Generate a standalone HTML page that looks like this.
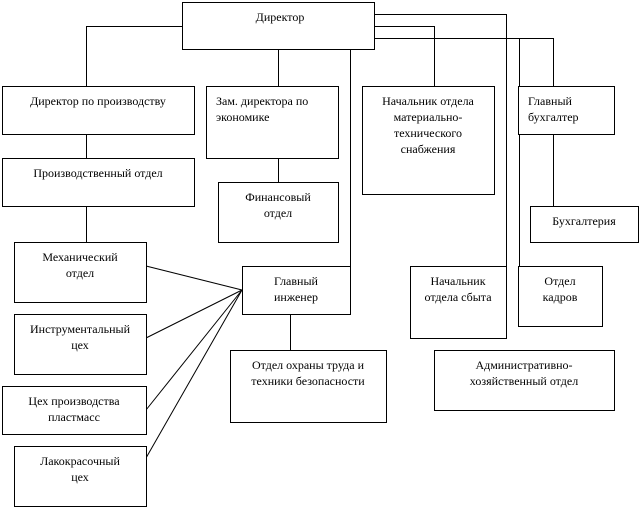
<!DOCTYPE html>
<html><head><meta charset="utf-8"><style>
html,body{margin:0;padding:0;background:#fff;}
svg{display:block;}
text{font-family:"Liberation Serif",serif;font-size:12px;fill:#000;}
</style></head><body>
<svg width="642" height="510" viewBox="0 0 642 510" xmlns="http://www.w3.org/2000/svg">
<g fill="none" stroke="#000" stroke-width="1">
<polyline points="182.5,26.5 86.5,26.5 86.5,86"/>
<line x1="278.5" y1="50" x2="278.5" y2="86"/>
<line x1="350.5" y1="50" x2="350.5" y2="266"/>
<polyline points="374,14.5 506.5,14.5 506.5,266"/>
<polyline points="374,26.5 434.5,26.5 434.5,86"/>
<polyline points="374,38.5 553.5,38.5 553.5,86"/>
<line x1="519.5" y1="38.5" x2="519.5" y2="266"/>
<line x1="553.5" y1="134" x2="553.5" y2="206"/>
<line x1="86.5" y1="134" x2="86.5" y2="158"/>
<line x1="86.5" y1="206" x2="86.5" y2="242"/>
<line x1="278.5" y1="158" x2="278.5" y2="182"/>
<line x1="290.5" y1="314" x2="290.5" y2="350"/>
<line x1="146" y1="266" x2="242" y2="290"/>
<line x1="146" y1="338" x2="242" y2="290"/>
<line x1="146" y1="410" x2="242" y2="290"/>
<line x1="146" y1="458" x2="242" y2="290"/>
<rect x="182.5" y="2.5" width="192" height="47" fill="#fff"/>
<rect x="2.5" y="86.5" width="192" height="48" fill="#fff"/>
<rect x="206.5" y="86.5" width="132" height="72" fill="#fff"/>
<rect x="362.5" y="86.5" width="132" height="108" fill="#fff"/>
<rect x="518.5" y="86.5" width="96" height="48" fill="#fff"/>
<rect x="2.5" y="158.5" width="192" height="48" fill="#fff"/>
<rect x="218.5" y="182.5" width="120" height="60" fill="#fff"/>
<rect x="530.5" y="206.5" width="108" height="36" fill="#fff"/>
<rect x="14.5" y="242.5" width="132" height="60" fill="#fff"/>
<rect x="242.5" y="266.5" width="108" height="48" fill="#fff"/>
<rect x="410.5" y="266.5" width="96" height="72" fill="#fff"/>
<rect x="518.5" y="266.5" width="84" height="60" fill="#fff"/>
<rect x="14.5" y="314.5" width="132" height="60" fill="#fff"/>
<rect x="230.5" y="350.5" width="156" height="72" fill="#fff"/>
<rect x="434.5" y="350.5" width="180" height="60" fill="#fff"/>
<rect x="2.5" y="386.5" width="144" height="48" fill="#fff"/>
<rect x="14.5" y="446.5" width="132" height="60" fill="#fff"/>
</g>
<g text-anchor="middle">
<text x="280" y="21">Директор</text>
<text x="98" y="105">Директор по производству</text>
<text x="428" y="105">Начальник отдела</text>
<text x="428" y="121">материально-</text>
<text x="428" y="137">технического</text>
<text x="428" y="153">снабжения</text>
<text x="98" y="177">Производственный  отдел</text>
<text x="278" y="201">Финансовый</text>
<text x="278" y="217">отдел</text>
<text x="584" y="225">Бухгалтерия</text>
<text x="80" y="261">Механический</text>
<text x="80" y="277">отдел</text>
<text x="296" y="285">Главный</text>
<text x="296" y="301">инженер</text>
<text x="458" y="285">Начальник</text>
<text x="458" y="301">отдела  сбыта</text>
<text x="560" y="285">Отдел</text>
<text x="560" y="301">кадров</text>
<text x="80" y="333">Инструментальный</text>
<text x="80" y="349">цех</text>
<text x="308" y="369">Отдел  охраны труда и</text>
<text x="308" y="385">техники  безопасности</text>
<text x="524" y="369">Административно-</text>
<text x="524" y="385">хозяйственный  отдел</text>
<text x="74" y="405">Цех производства</text>
<text x="74" y="421">пластмасс</text>
<text x="80" y="465">Лакокрасочный</text>
<text x="80" y="481">цех</text>
</g>
<text x="216" y="105">Зам. директора по</text>
<text x="216" y="121">экономике</text>
<text x="528" y="105">Главный</text>
<text x="528" y="121">бухгалтер</text>
</svg>
</body></html>
